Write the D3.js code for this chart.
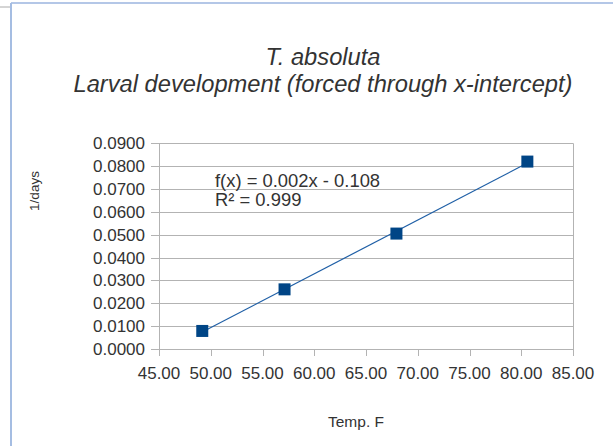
<!DOCTYPE html>
<html><head><meta charset="utf-8">
<script src="https://cdn.jsdelivr.net/npm/d3@7"></script>
<style>
html,body{margin:0;padding:0;background:#fff;}
svg{display:block;font-family:"Liberation Sans",Arial,sans-serif;}
</style></head>
<body><svg id="c" width="613" height="446"></svg>
<script>
const temps = [49.18, 57.13, 67.94, 80.59];
const rates = [0.0079, 0.0261, 0.0505, 0.0820];
const xTicks = [45, 50, 55, 60, 65, 70, 75, 80, 85];
const yTicks = [0, 0.01, 0.02, 0.03, 0.04, 0.05, 0.06, 0.07, 0.08, 0.09];
const titleLines = ["T. absoluta", "Larval development (forced through x-intercept)"];
const eqLines = ["f(x) = 0.002x - 0.108", "R² = 0.999"];

(function(){
const svg = d3.select("#c");
const pL = 159, pR = 573, pT = 143.3, pB = 349;
const x = d3.scaleLinear().domain([45, 85]).range([pL, pR]);
const y = d3.scaleLinear().domain([0, 0.09]).range([pB, pT]);
const txt = "#333333", grid = "#b3b3b3";

// frame
svg.append("line").attr("x1",11).attr("x2",613).attr("y1",3).attr("y2",3).attr("stroke","#b4c7e7").attr("stroke-width",2);
svg.append("line").attr("x1",11).attr("x2",11).attr("y1",3).attr("y2",446).attr("stroke","#a5bde2").attr("stroke-width",2);
svg.append("line").attr("x1",0).attr("x2",10).attr("y1",7).attr("y2",7).attr("stroke","#aaaaaa").attr("stroke-width",1);

// title
svg.append("text").attr("x",323).attr("y",64.5).attr("text-anchor","middle").attr("font-size",23.7).attr("font-style","italic").attr("fill",txt).text(titleLines[0]);
svg.append("text").attr("x",323).attr("y",92).attr("text-anchor","middle").attr("font-size",23.7).attr("font-style","italic").attr("fill",txt).text(titleLines[1]);

// grid
const g = svg.append("g");
g.selectAll("line.gy").data(yTicks).join("line")
  .attr("x1", pL-8).attr("x2", pR)
  .attr("y1", d=>Math.round(y(d))+0.5).attr("y2", d=>Math.round(y(d))+0.5)
  .attr("stroke", grid).attr("stroke-width",1);
g.append("line").attr("x1",pL+0.5).attr("x2",pL+0.5).attr("y1",pT).attr("y2",pB+0.5).attr("stroke",grid);
g.append("line").attr("x1",pR+0.5).attr("x2",pR+0.5).attr("y1",pT).attr("y2",pB+7).attr("stroke",grid);
g.selectAll("line.tx").data(xTicks).join("line")
  .attr("x1", d=>Math.round(x(d))+0.5).attr("x2", d=>Math.round(x(d))+0.5)
  .attr("y1", pB).attr("y2", pB+7).attr("stroke", grid);

// tick labels
svg.append("g").selectAll("text").data(yTicks).join("text")
  .attr("x",145).attr("y",d=>y(d)+6).attr("text-anchor","end").attr("font-size",17).attr("fill",txt)
  .text(d=>d3.format(".4f")(d));
svg.append("g").selectAll("text").data(xTicks).join("text")
  .attr("x",d=>x(d)).attr("y",379).attr("text-anchor","middle").attr("font-size",17).attr("fill",txt)
  .text(d=>d3.format(".2f")(d));

// axis titles
svg.append("text").attr("x",356).attr("y",427).attr("text-anchor","middle").attr("font-size",15.5).attr("fill",txt).text("Temp. F");
svg.append("text").attr("transform","translate(39,191) rotate(-90)").attr("text-anchor","middle").attr("font-size",13.5).attr("fill",txt).text("1/days");

// trend line (least squares)
const mx = d3.mean(temps), my = d3.mean(rates);
const slope = d3.sum(temps, (t,i)=>(t-mx)*(rates[i]-my)) / d3.sum(temps, t=>(t-mx)*(t-mx));
const icpt = my - slope*mx;
const x0 = d3.min(temps), x1 = d3.max(temps);
svg.append("line").attr("x1",x(x0)).attr("y1",y(slope*x0+icpt)).attr("x2",x(x1)).attr("y2",y(slope*x1+icpt))
  .attr("stroke","#1f5fa6").attr("stroke-width",1.2);

// markers
svg.append("g").selectAll("rect").data(temps).join("rect")
  .attr("x",(d)=>x(d)-6).attr("y",(d,i)=>y(rates[i])-6).attr("width",12).attr("height",12).attr("fill","#004586");

// equation
svg.append("text").attr("x",215).attr("y",187).attr("font-size",18.4).attr("fill",txt).text(eqLines[0]);
svg.append("text").attr("x",215).attr("y",206).attr("font-size",18.4).attr("fill",txt).text(eqLines[1]);
})();
</script></body></html>
